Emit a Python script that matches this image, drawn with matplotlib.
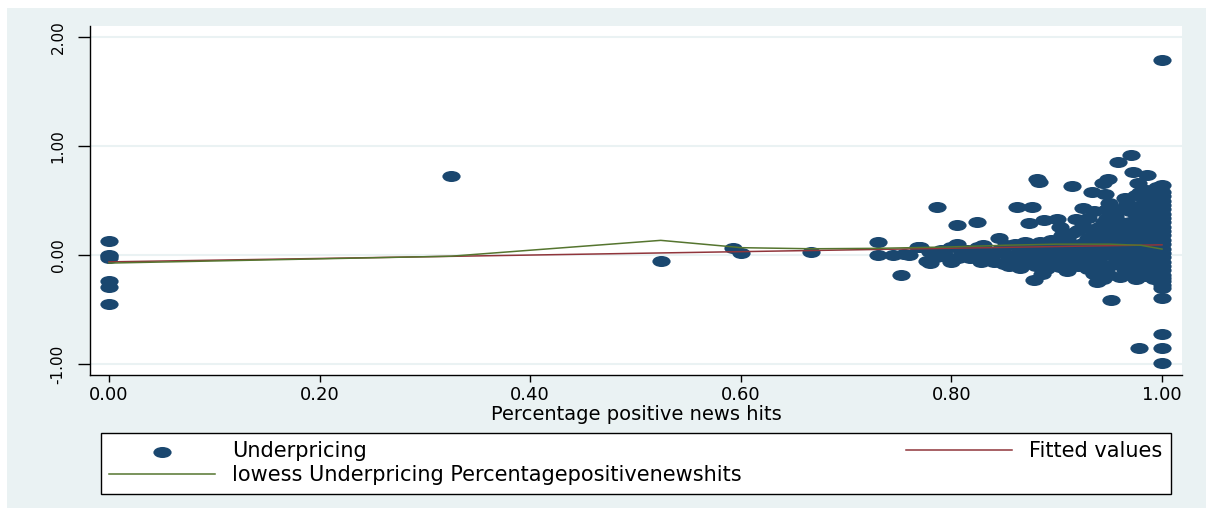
import matplotlib

matplotlib.use("Agg")
import matplotlib.pyplot as plt
from matplotlib.patches import Rectangle
from matplotlib.path import Path
from matplotlib.transforms import Affine2D

# share of positive news hits for each IPO
news_share = [
    0.0, 0.0, 0.0, 0.0, 0.0, 0.0, 0.0,
    0.325, 0.524, 0.593, 0.600, 0.667,
    0.730, 0.730, 0.745, 0.752, 0.755, 0.760,
    0.768, 0.777, 0.780, 0.786, 0.770, 0.780, 0.785, 0.790, 0.800, 0.796,
    0.805, 0.806, 0.810, 0.815, 0.824, 0.818, 0.828, 0.835, 0.845, 0.840,
    0.850, 0.855, 0.860, 0.862, 0.865, 0.868, 0.872, 0.874, 0.877, 0.878,
    0.878, 0.881, 0.883, 0.884, 0.886, 0.888, 0.890, 0.895, 0.900, 0.903,
    0.903, 0.905, 0.910, 0.912, 0.915, 0.918, 0.920, 0.922, 0.925, 0.925,
    0.930, 0.934, 0.935, 0.938, 0.940, 0.940, 0.944, 0.944, 0.946, 0.948,
    0.948, 0.949, 0.950, 0.952, 0.955, 0.958, 0.960, 0.960, 0.963, 0.965,
    0.967, 0.968, 0.971, 0.972, 0.975, 0.975, 0.977, 0.978, 0.979, 0.980,
    0.980, 0.982, 0.985, 0.986, 0.986, 0.987, 0.988, 0.990, 0.990,
    0.790, 0.800, 0.820, 0.825, 0.830, 0.845, 0.850, 0.860, 0.865, 0.870,
    0.875, 0.880, 0.885, 0.890, 0.895, 0.900, 0.905, 0.910, 0.915, 0.920,
    0.925, 0.930, 0.930, 0.935, 0.940, 0.945, 0.945, 0.950, 0.950, 0.955,
    0.955, 0.960, 0.965, 0.965, 0.970, 0.970, 0.975, 0.975, 0.980, 0.980,
    0.985, 0.985, 0.990, 0.990, 0.990, 0.993, 0.993, 0.995, 0.995,
    0.800, 0.812, 0.838, 0.852, 0.858, 0.882, 0.892, 0.898, 0.908, 0.918,
    0.928, 0.938, 0.958, 0.962, 0.972, 0.978, 0.983, 0.988, 0.992, 0.996,
    0.905, 0.915, 0.925, 0.930, 0.935, 0.940, 0.945, 0.950, 0.955, 0.960,
    0.960, 0.965, 0.968, 0.970, 0.975, 0.978, 0.982, 0.985, 0.988, 0.990,
    0.992, 0.994,
    0.855, 0.870, 0.880, 0.890, 0.900, 0.910, 0.920, 0.930, 0.935, 0.945,
    0.950, 0.955, 0.960, 0.965, 0.970, 0.975, 0.980, 0.985, 0.990, 0.992,
    0.995,
    0.805, 0.830, 0.840, 0.870, 0.885, 0.900, 0.915, 0.935, 0.950, 0.960,
    0.970, 0.975, 0.980, 0.990, 0.985,
    1.0, 1.0, 1.0, 1.0, 1.0, 1.0, 1.0, 1.0, 1.0, 1.0,
    1.0, 1.0, 1.0, 1.0, 1.0, 1.0, 1.0, 1.0, 1.0, 1.0,
    1.0, 1.0, 1.0, 1.0, 1.0, 1.0, 1.0, 1.0, 1.0, 1.0,
]
underpricing = [
    0.13, 0.0, -0.01, -0.03, -0.24, -0.29, -0.45,
    0.72, -0.055, 0.065, 0.015, 0.025,
    0.12, 0.0, 0.0, -0.18, 0.01, 0.0,
    0.07, -0.05, -0.07, 0.44, 0.07, 0.03, -0.02, 0.0, 0.07, -0.02,
    0.28, -0.03, 0.02, 0.05, 0.30, -0.03, -0.06, 0.02, 0.16, -0.06,
    0.02, -0.03, 0.10, 0.44, -0.12, 0.03, 0.11, 0.29, 0.44, -0.23,
    -0.02, 0.70, 0.67, 0.12, -0.17, 0.32, 0.04, -0.05, 0.33, 0.26,
    -0.11, 0.08, 0.16, 0.02, 0.63, 0.33, 0.23, -0.03, 0.43, 0.11,
    0.06, 0.58, 0.20, -0.25, 0.13, -0.06, 0.66, -0.22, 0.56, 0.42,
    0.34, 0.70, 0.22, -0.41, 0.06, 0.85, 0.17, -0.04, 0.28, 0.11,
    0.48, -0.11, 0.915, 0.76, 0.38, 0.01, 0.66, -0.85, 0.58, 0.24,
    -0.18, 0.12, 0.40, 0.73, 0.50, -0.05, 0.30, 0.18, -0.19,
    0.05, -0.06, 0.0, 0.07, -0.02, 0.05, -0.08, 0.0, 0.06, -0.06,
    0.08, 0.02, -0.08, 0.10, 0.14, -0.02, 0.05, -0.07, 0.10, 0.03,
    -0.08, 0.16, -0.02, 0.04, 0.09, 0.0, 0.18, -0.10, 0.13, 0.25,
    -0.02, 0.08, 0.20, -0.14, 0.04, 0.30, -0.07, 0.15, 0.06, 0.45,
    -0.12, 0.22, 0.10, 0.35, -0.02, 0.27, 0.55, 0.05, 0.62,
    -0.04, 0.04, -0.01, 0.09, -0.04, 0.05, -0.03, 0.02, 0.12, -0.05,
    0.07, 0.01, 0.03, -0.09, -0.01, 0.09, -0.03, 0.14, 0.07, -0.10,
    0.18, 0.20, 0.27, 0.34, 0.40, 0.26, 0.30, 0.48, 0.36, 0.42,
    0.30, 0.52, 0.25, 0.40, 0.55, 0.32, 0.47, 0.60, 0.40, 0.26,
    0.45, 0.34,
    -0.10, -0.03, -0.10, -0.13, -0.06, -0.15, -0.10, -0.13, -0.17, -0.12,
    -0.18, -0.08, -0.20, -0.05, -0.17, -0.22, -0.10, -0.19, -0.09, -0.22,
    -0.15,
    0.10, 0.09, 0.01, 0.12, 0.05, 0.09, 0.0, 0.12, 0.03, 0.14,
    0.10, -0.03, 0.18, 0.02, 0.08,
    1.79, 0.64, 0.58, 0.54, 0.50, 0.46, 0.42, 0.38, 0.34, 0.30,
    0.26, 0.22, 0.18, 0.14, 0.10, 0.06, 0.02, -0.02, -0.06, -0.10,
    -0.14, -0.18, -0.21, -0.24, -0.27, -0.30, -0.39, -0.72, -0.85, -0.99,
]

# linear fit, evaluated at the ends of the x range
fit_x = [0.0, 1.0]
fit_y = [-0.062, 0.094]

# lowess smoother
lowess_x = [0.0, 0.325, 0.524, 0.593, 0.600, 0.667, 0.730, 0.800, 0.850, 0.900, 0.950, 0.980, 1.0]
lowess_y = [-0.073, -0.01, 0.135, 0.075, 0.068, 0.058, 0.062, 0.075, 0.09, 0.10, 0.10, 0.09, 0.055]

x_ticks = [0.0, 0.2, 0.4, 0.6, 0.8, 1.0]
y_ticks = [-1.0, 0.0, 1.0, 2.0]

NAVY = "#1a476f"
MAROON = "#90353b"
GREEN = "#55752f"
BG = "#eaf2f3"
W, H = 1206, 508

plt.rcParams["font.family"] = ["DejaVu Sans"]

fig = plt.figure(figsize=(W / 100, H / 100), dpi=100, facecolor="white")
fig.patches.append(
    Rectangle((7 / W, 0), 1, (H - 8) / H, transform=fig.transFigure, facecolor=BG, edgecolor="none", zorder=-10)
)

ax = fig.add_axes([90 / W, (H - 375) / H, (1182 - 90) / W, (375 - 26) / H])
ax.set_facecolor("white")

# stretched dots, as in the original export
dot = Affine2D().scale(1.65, 1.0).transform_path(Path.unit_circle())

ax.scatter(news_share, underpricing, s=172, marker=dot, color=NAVY, linewidths=0, zorder=3, label="Underpricing")
ax.plot(fit_x, fit_y, color=MAROON, lw=1.1, zorder=4, label="Fitted values")
ax.plot(lowess_x, lowess_y, color=GREEN, lw=1.1, zorder=5, label="lowess Underpricing Percentagepositivenewshits")

ax.set_xlim(-0.018, 1.019)
ax.set_ylim(-1.098, 2.098)
ax.set_xticks(x_ticks)
ax.set_xticklabels([f"{v:.2f}" for v in x_ticks], fontsize=13)
ax.set_yticks(y_ticks)
ax.set_yticklabels([f"{v:.2f}" for v in y_ticks], fontsize=11, rotation=90, va="center")
ax.tick_params(axis="x", length=5, width=1, pad=3)
ax.tick_params(axis="y", length=8.6, width=1, pad=9)
ax.grid(axis="y", color=BG, lw=1.5, zorder=0)
ax.set_axisbelow(True)
for side in ("top", "right"):
    ax.spines[side].set_visible(False)
for side in ("left", "bottom"):
    ax.spines[side].set_color("black")
    ax.spines[side].set_linewidth(1.0)
ax.set_xlabel("Percentage positive news hits", fontsize=14, labelpad=1)

handles, labels = ax.get_legend_handles_labels()
order = [0, 2, 1]
legend = fig.legend(
    [handles[i] for i in order],
    [labels[i] for i in order],
    ncol=2,
    mode="expand",
    loc="upper left",
    bbox_to_anchor=(100.7 / W, 0, (1170.7 - 100.7) / W, (H - 432.7) / H),
    borderaxespad=0,
    fontsize=15,
    handlelength=5.1,
    handletextpad=0.8,
    labelspacing=0.2,
    borderpad=0.4,
    scatterpoints=1,
    fancybox=False,
    framealpha=1,
    edgecolor="black",
)
legend.get_frame().set_linewidth(1.0)

fig.savefig("out.png", dpi=100, facecolor=fig.get_facecolor())
plt.close(fig)
